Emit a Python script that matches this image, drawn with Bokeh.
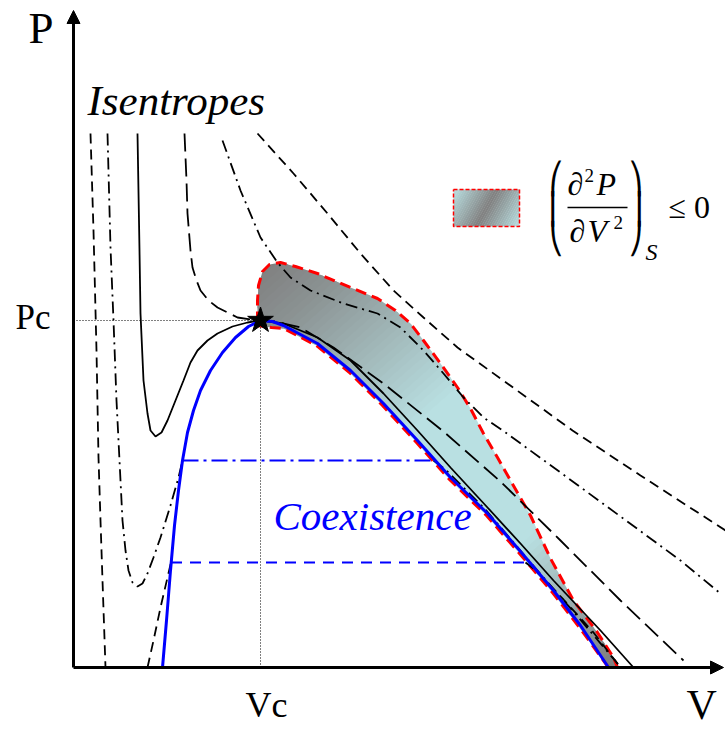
import numpy as np
from bokeh.plotting import figure
from bokeh.models import Range1d, Label, Arrow, NormalHead
from bokeh.embed import file_html
from bokeh.resources import INLINE

# ---------------- data (arbitrary units, V and P) ----------------
Vc, Pc = 1.87, 3.47
tick_labels = ["Vc", "Pc"]

coex_V = [0.89, 0.93, 0.97, 1.01, 1.05, 1.09, 1.14, 1.20, 1.27, 1.37, 1.49, 1.62, 1.75,
          1.87, 1.99, 2.10, 2.44, 2.77, 3.10, 3.44, 3.77, 4.14, 4.47, 4.80, 5.07, 5.35]
coex_P = [0.00, 0.47, 0.97, 1.42, 1.77, 2.07, 2.35, 2.57, 2.77, 2.97, 3.15, 3.30, 3.41,
          3.47, 3.46, 3.42, 3.24, 2.97, 2.64, 2.27, 1.90, 1.54, 1.16, 0.77, 0.42, 0.00]

# isentropes
iso_solid_V = [0.64, 0.66, 0.67, 0.70, 0.74, 0.77, 0.82, 0.88, 0.94, 1.02, 1.10, 1.17, 1.24,
               1.34, 1.44, 1.59, 1.74, 1.87, 2.10, 2.44, 2.77, 3.10, 3.44, 3.77, 4.14, 4.47,
               4.80, 5.27, 5.60]
iso_solid_P = [5.34, 4.17, 3.54, 2.87, 2.54, 2.37, 2.31, 2.35, 2.47, 2.67, 2.87, 3.05, 3.17,
               3.27, 3.34, 3.41, 3.45, 3.47, 3.44, 3.30, 3.07, 2.74, 2.37, 2.00, 1.60, 1.24,
               0.87, 0.37, 0.00]

iso_long_V = [1.11, 1.13, 1.14, 1.17, 1.19, 1.23, 1.27, 1.35, 1.44, 1.64, 1.84, 2.02, 2.27,
              2.60, 3.10, 3.70, 4.27, 4.87, 5.47, 6.10]
iso_long_P = [5.34, 4.87, 4.54, 4.17, 4.00, 3.87, 3.77, 3.67, 3.60, 3.50, 3.47, 3.46, 3.40,
              3.20, 2.84, 2.36, 1.86, 1.27, 0.67, 0.07]

iso_dd1_V = [0.34, 0.37, 0.40, 0.43, 0.46, 0.49, 0.52, 0.55, 0.59, 0.64, 0.69, 0.74, 0.80,
             0.87, 0.97, 1.05, 1.09]
iso_dd1_P = [5.34, 4.20, 3.47, 2.67, 2.07, 1.47, 1.17, 0.97, 0.85, 0.81, 0.84, 0.94, 1.10,
             1.30, 1.62, 1.90, 2.07]
iso_dd1r_V = [3.60, 3.72, 4.12, 4.57, 5.05, 5.44]
iso_dd1r_P = [2.07, 1.98, 1.58, 1.05, 0.50, 0.04]

iso_sd1_V = [0.17, 0.20, 0.23, 0.25, 0.27, 0.29, 0.32]
iso_sd1_P = [5.34, 4.37, 3.17, 2.10, 1.47, 0.87, 0.00]

iso_sd2_V = [0.74, 0.80, 0.87, 0.975]
iso_sd2_P = [0.00, 0.27, 0.60, 1.05]
iso_sd2r_V = [4.52, 4.60, 4.90, 5.20, 5.47]
iso_sd2r_P = [1.05, 0.99, 0.68, 0.35, 0.00]

iso_dd2_V = [1.49, 1.67, 1.87, 2.04, 2.17, 2.37, 2.70, 3.04, 3.27, 3.50, 3.70, 3.90, 4.10,
             4.32, 4.87, 5.47, 6.07, 6.47]
iso_dd2_P = [5.27, 4.77, 4.30, 4.05, 3.90, 3.77, 3.64, 3.54, 3.40, 3.17, 2.94, 2.70, 2.50,
             2.35, 1.95, 1.51, 1.07, 0.74]

iso_sd3_V = [1.84, 2.20, 2.54, 2.87, 3.20, 3.50, 3.84, 4.27, 4.99, 5.67, 6.52]
iso_sd3_P = [5.34, 4.94, 4.54, 4.14, 3.77, 3.50, 3.20, 2.89, 2.37, 1.92, 1.37]

# tie lines (dash-dot upper, dashed lower)
tie_P = [2.07, 1.05]
tie_Vl = [1.09, 0.975]
tie_Vr = [3.60, 4.52]

# region where (d2P/dV2)_S <= 0
reg_up_V = [1.84, 1.84, 1.85, 1.89, 1.96, 2.07, 2.22, 2.44, 2.77, 3.04, 3.22, 3.37, 3.50,
            3.67, 3.84, 3.97, 4.10, 4.24, 4.37, 4.57, 4.77, 5.00, 5.24, 5.40, 5.44]
reg_up_P = [3.45, 3.67, 3.82, 3.96, 4.03, 4.05, 4.01, 3.94, 3.80, 3.69, 3.57, 3.44, 3.27,
            3.04, 2.80, 2.59, 2.34, 2.10, 1.87, 1.52, 1.09, 0.67, 0.35, 0.10, 0.00]
reg_lo_V = [5.35, 5.06, 4.79, 4.46, 4.13, 3.76, 3.43, 3.09, 2.76, 2.43, 2.10, 1.98, 1.84]
reg_lo_P = [0.00, 0.40, 0.75, 1.14, 1.52, 1.88, 2.25, 2.62, 2.95, 3.22, 3.39, 3.40, 3.42]

# ---------------- figure ----------------
W, H = 725, 732
x0px, y0px = 73, 667     # where V=0, P=0 sit on the canvas
S = 100.0                # pixels per unit
p = figure(width=W, height=H, output_backend="svg", toolbar_location=None,
           x_range=Range1d(-x0px / S, (W - x0px) / S),
           y_range=Range1d(-(H - y0px) / S, y0px / S),
           x_axis_type=None, y_axis_type=None, min_border=0)
p.outline_line_color = None
p.background_fill_color = "white"
p.border_fill_color = "white"


def X(px):
    return (px - x0px) / S


def Y(py):
    return (y0px - py) / S


def clip(poly, a, b, c):
    out = []
    n = len(poly)
    for i in range(n):
        cur, prv = poly[i], poly[i - 1]
        fc = a * cur[0] + b * cur[1] + c
        fp = a * prv[0] + b * prv[1] + c
        if fc >= 0:
            if fp < 0:
                t = fp / (fp - fc)
                out.append((prv[0] + t * (cur[0] - prv[0]), prv[1] + t * (cur[1] - prv[1])))
            out.append(cur)
        elif fp >= 0:
            t = fp / (fp - fc)
            out.append((prv[0] + t * (cur[0] - prv[0]), prv[1] + t * (cur[1] - prv[1])))
    return out


GRAY = np.array([128, 128, 128], float)
CYAN = np.array([185, 224, 226], float)


def mix(f):
    c = GRAY + (CYAN - GRAY) * f
    return "#%02x%02x%02x" % tuple(int(round(v)) for v in c)


def gradient_fill(poly, p0, p1, fofs, n=90):
    dx, dy = p1[0] - p0[0], p1[1] - p0[1]
    L2 = dx * dx + dy * dy
    base = dx * p0[0] + dy * p0[1]
    xs, ys, cols = [], [], []
    edges = np.linspace(-0.05, 1.05, n + 1)
    for i in range(n):
        ta, tb = edges[i], edges[i + 1] + 0.004
        q = clip(poly, dx, dy, -base - ta * L2)
        if len(q) < 3:
            continue
        q = clip(q, -dx, -dy, base + tb * L2)
        if len(q) < 3:
            continue
        xs.append([pt[0] for pt in q])
        ys.append([pt[1] for pt in q])
        cols.append(mix(fofs(0.5 * (edges[i] + edges[i + 1]))))
    p.patches(xs, ys, fill_color=cols, line_color=None)


# shaded region with gradient
reg_V = reg_up_V + reg_lo_V
reg_P = reg_up_P + reg_lo_P
poly = list(zip(reg_V, reg_P))
gradient_fill(poly, (1.92, 4.02), (5.37, 0.07),
              lambda t: float(np.interp(t, [0, 0.1, 0.42, 0.72, 1.0], [0, 0.18, 1, 1, 0])))
p.line(reg_V + [reg_V[0]], reg_P + [reg_P[0]], line_color="#ff0000", line_width=3,
       line_dash="11 6")

# legend swatch
lx0, lx1, ly0, ly1 = X(453), X(519), Y(189), Y(226)
sw = [(lx0, ly0), (lx1, ly0), (lx1, ly1), (lx0, ly1)]
gradient_fill(sw, (lx0, ly0), (lx1, ly1),
              lambda t: abs(2 * t - 1), n=40)
p.line([lx0, lx1, lx1, lx0, lx0], [ly0, ly0, ly1, ly1, ly0], line_color="#ff0000",
       line_width=1.5, line_dash="4 2")

# dotted guides to critical point
p.line([0, Vc], [Pc, Pc], line_color="black", line_width=1, line_dash="1 2")
p.line([Vc, Vc], [0, Pc], line_color="black", line_width=1, line_dash="1 2")

# isentropes
LW = 1.8
p.line(iso_sd1_V, iso_sd1_P, line_color="black", line_width=LW, line_dash="10 6")
p.line(iso_sd2_V, iso_sd2_P, line_color="black", line_width=LW, line_dash="10 6")
p.line(iso_sd2r_V, iso_sd2r_P, line_color="black", line_width=LW, line_dash="10 6")
p.line(iso_sd3_V, iso_sd3_P, line_color="black", line_width=LW, line_dash="10 6")
p.line(iso_dd1_V, iso_dd1_P, line_color="black", line_width=LW, line_dash="12 5 2 5")
p.line(iso_dd1r_V, iso_dd1r_P, line_color="black", line_width=LW, line_dash="12 5 2 5")
p.line(iso_dd2_V, iso_dd2_P, line_color="black", line_width=LW, line_dash="12 5 2 5")
p.line(iso_long_V, iso_long_P, line_color="black", line_width=LW, line_dash="18 7")
p.line(iso_solid_V, iso_solid_P, line_color="black", line_width=LW)

# tie lines
p.line([tie_Vl[0], tie_Vr[0]], [tie_P[0], tie_P[0]], line_color="#0000ff", line_width=1.8,
       line_dash="16 5 3 5")
p.line([tie_Vl[1], tie_Vr[1]], [tie_P[1], tie_P[1]], line_color="#0000ff", line_width=1.8,
       line_dash="11 8")

# coexistence curve
p.line(coex_V, coex_P, line_color="#0000ff", line_width=3)

# axes with arrows
p.add_layout(Arrow(end=NormalHead(size=13, fill_color="black", line_color="black"),
                   x_start=0, y_start=0, x_end=X(723), y_end=0, line_width=3))
p.add_layout(Arrow(end=NormalHead(size=13, fill_color="black", line_color="black"),
                   x_start=0, y_start=0, x_end=0, y_end=Y(10), line_width=3))

# critical point
p.scatter([Vc], [Pc], marker="star", size=27, fill_color="black", line_color="black")

SERIF = "Liberation Serif"
KB = 0.35   # renderer baseline offset, as a fraction of the font size


def lab(text, px, py, size, style="normal", color="black", align="left", font=SERIF):
    p.add_layout(Label(x=X(px), y=Y(py - KB * size), text=text, text_font=font,
                       text_font_size=f"{size}px", text_font_style=style,
                       text_color=color, text_align=align, text_baseline="alphabetic"))


lab("P", 28, 43, 45)
lab("V", 686, 719, 42)
lab(tick_labels[1], 15, y0px - Pc * S + 9, 35)
lab(tick_labels[0], x0px + Vc * S + 6, 717, 36, align="center")
lab("Isentropes", 87, 115, 43, style="italic")
lab("Coexistence", 273, 530, 41, style="italic", color="#0000ff")

# formula  (d2P/dV2)_S <= 0
lab("∂", 567, 195, 32)
lab("2", 584, 182, 19)
lab("P", 596, 195, 32, style="italic")
p.line([X(567), X(627)], [Y(207), Y(207)], line_color="black", line_width=1.5)
lab("∂", 569, 242, 32)
lab("V", 587, 242, 32, style="italic")
lab("2", 613, 229, 19)
for ch, b in zip(["⎛", "⎜", "⎝"], [188, 218, 248]):
    lab(ch, 548, b, 30, font="DejaVu Sans")
for ch, b in zip(["⎞", "⎟", "⎠"], [188, 218, 248]):
    lab(ch, 628, b, 30, font="DejaVu Sans")
lab("S", 645, 260, 24, style="italic")
lab("≤ 0", 668, 218, 32)

open("out.html", "w").write(file_html(p, INLINE))
